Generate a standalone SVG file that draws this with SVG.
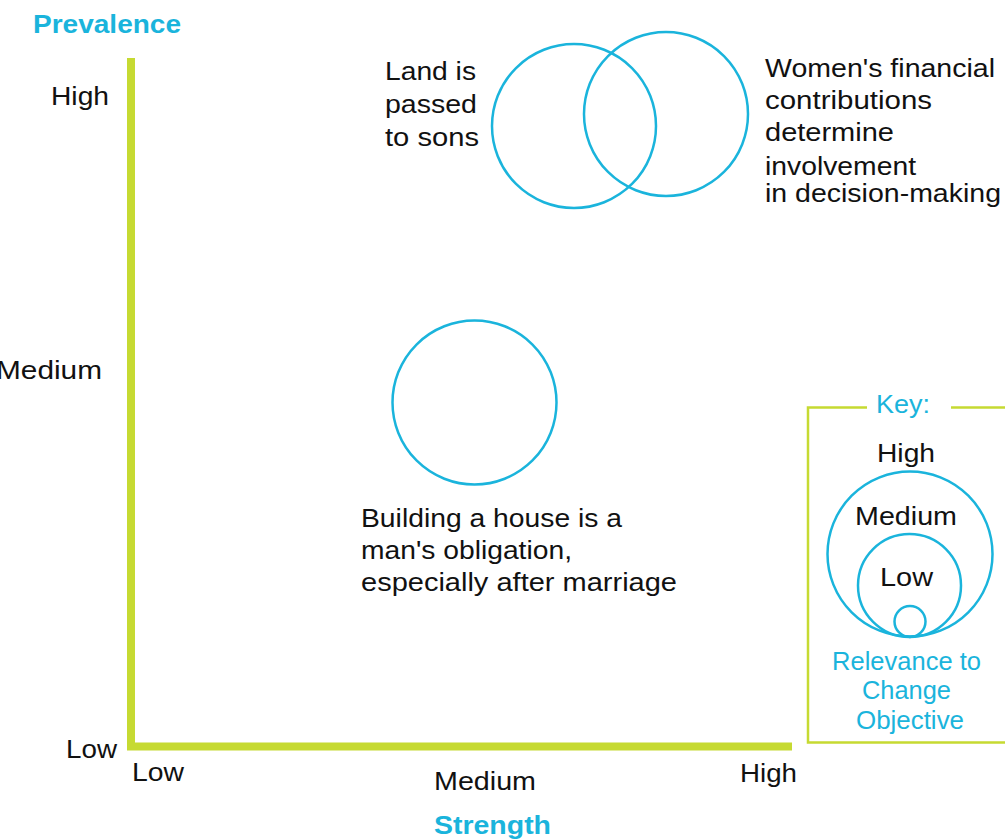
<svg xmlns="http://www.w3.org/2000/svg" width="1005" height="839" viewBox="0 0 1005 839">
<style>
text{font-family:"Liberation Sans",Arial,sans-serif;font-size:25px;fill:#111}
.c{fill:none;stroke:#1ab4dc;stroke-width:2.5}
.t{fill:#1ab4dc}
.b{font-weight:bold}
.ax{stroke:#c6da32;stroke-width:8;fill:none}
.key{stroke:#c6da32;stroke-width:2.5;fill:none}
</style>
<rect width="1005" height="839" fill="#fff"/>
<g id="axes">
<path class="ax" d="M131 58 V746.5 H792"/>
<text class="t b" x="33" y="33" textLength="148" lengthAdjust="spacingAndGlyphs">Prevalence</text>
<text class="t b" x="434" y="834" textLength="117" lengthAdjust="spacingAndGlyphs">Strength</text>
<text x="51" y="105" textLength="58" lengthAdjust="spacingAndGlyphs">High</text>
<text x="-4" y="379" textLength="106" lengthAdjust="spacingAndGlyphs">Medium</text>
<text x="66" y="758" textLength="51" lengthAdjust="spacingAndGlyphs">Low</text>
<text x="132" y="781" textLength="52" lengthAdjust="spacingAndGlyphs">Low</text>
<text x="434" y="790" textLength="102" lengthAdjust="spacingAndGlyphs">Medium</text>
<text x="740" y="782" textLength="57" lengthAdjust="spacingAndGlyphs">High</text>
</g>
<g id="node-land">
<circle class="c" cx="574" cy="126" r="82"/>
<text x="385" y="80" textLength="91" lengthAdjust="spacingAndGlyphs">Land is</text>
<text x="385" y="113" textLength="92" lengthAdjust="spacingAndGlyphs">passed</text>
<text x="385" y="146" textLength="94" lengthAdjust="spacingAndGlyphs">to sons</text>
</g>
<g id="node-women">
<circle class="c" cx="666" cy="114" r="82"/>
<text x="765" y="77" textLength="230" lengthAdjust="spacingAndGlyphs">Women's financial</text>
<text x="765" y="109" textLength="167" lengthAdjust="spacingAndGlyphs">contributions</text>
<text x="765" y="141" textLength="129" lengthAdjust="spacingAndGlyphs">determine</text>
<text x="765" y="175" textLength="151" lengthAdjust="spacingAndGlyphs">involvement</text>
<text x="765" y="202" textLength="236" lengthAdjust="spacingAndGlyphs">in decision-making</text>
</g>
<g id="node-house">
<circle class="c" cx="474.5" cy="402.5" r="82"/>
<text x="361" y="527" textLength="261" lengthAdjust="spacingAndGlyphs">Building a house is a</text>
<text x="361" y="559" textLength="211" lengthAdjust="spacingAndGlyphs">man's obligation,</text>
<text x="361" y="591" textLength="316" lengthAdjust="spacingAndGlyphs">especially after marriage</text>
</g>
<g id="key">
<path class="key" d="M867 407.5 H808 V742.5 H1005"/>
<path class="key" d="M951 407.5 H1005"/>
<text class="t" x="876" y="413" textLength="54" lengthAdjust="spacingAndGlyphs">Key:</text>
<circle class="c" cx="910" cy="554" r="82.5"/>
<circle class="c" cx="909.5" cy="585.5" r="51.5"/>
<circle class="c" cx="910" cy="621.5" r="15.5"/>
<text x="877" y="462" textLength="58" lengthAdjust="spacingAndGlyphs">High</text>
<text x="855" y="525" textLength="102" lengthAdjust="spacingAndGlyphs">Medium</text>
<text x="880" y="586" textLength="53" lengthAdjust="spacingAndGlyphs">Low</text>
<text class="t" x="832" y="670" textLength="149" lengthAdjust="spacingAndGlyphs">Relevance to</text>
<text class="t" x="862" y="699" textLength="89" lengthAdjust="spacingAndGlyphs">Change</text>
<text class="t" x="856" y="729" textLength="108" lengthAdjust="spacingAndGlyphs">Objective</text>
</g>
</svg>
